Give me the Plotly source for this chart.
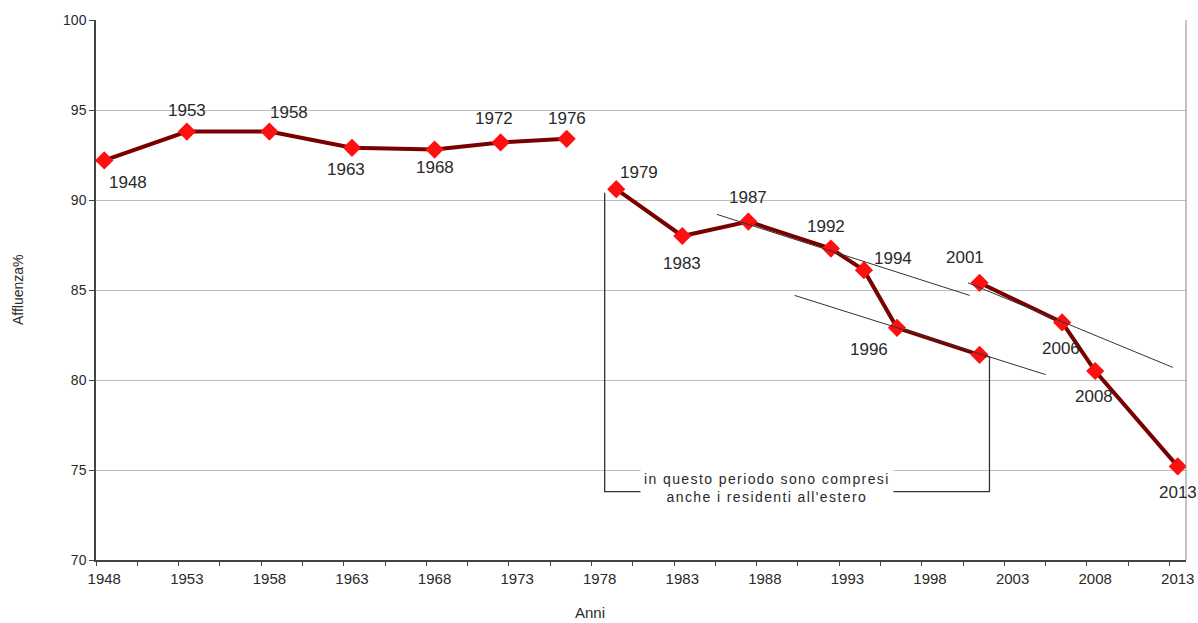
import plotly.graph_objects as go

# Affluenza alle elezioni politiche (Camera), valori percentuali
years_a = [1948, 1953, 1958, 1963, 1968, 1972, 1976]
turnout_a = [92.2, 93.8, 93.8, 92.9, 92.8, 93.2, 93.4]

years_b = [1979, 1983, 1987, 1992, 1994, 1996, 2001]
turnout_b = [90.6, 88.0, 88.8, 87.3, 86.1, 82.9, 81.4]

years_c = [2001, 2006, 2008, 2013]
turnout_c = [85.4, 83.2, 80.5, 75.2]

# label placement for each point: (xshift, yshift) in pixels
labels_a = [(24, -22), (0, 21), (20, 19), (-6, -22), (0, -18), (-7, 24), (0, 20)]
labels_b = [(23, 17), (0, -27), (0, 24), (-5, 22), (29, 12), (-28, -22), None]
labels_c = [(-15, 25), (-1, -26), (-1, -25), (0, -26)]

x_ticks = list(range(1948, 2014, 5))
y_ticks = [70, 75, 80, 85, 90, 95, 100]

# thin trend segments: (x0, y0, x1, y1)
trend_lines = [
    (1985.1, 89.2, 2000.4, 84.7),
    (1989.8, 84.7, 2005.0, 80.3),
    (2000.3, 85.4, 2012.7, 80.7),
]

# bracket marking the period that includes residents abroad
bracket_left = 1978.3
bracket_right = 2001.6
bracket_top_left = 90.4
bracket_top_right = 81.3
bracket_bottom = 73.8
note_x = 1988.1
note_lines = ["in questo periodo sono compresi", "anche i residenti all'estero"]

LINE = "#7a0000"
MARK = "#ff1010"
TXT = "#2a2a2a"
FONT = "Liberation Sans, Arial"

fig = go.Figure()
for xs, ys in [(years_a, turnout_a), (years_b, turnout_b), (years_c, turnout_c)]:
    fig.add_trace(go.Scatter(
        x=xs, y=ys, mode="lines+markers",
        line=dict(color=LINE, width=4),
        marker=dict(symbol="diamond", size=14, color=MARK,
                    line=dict(color=MARK, width=0)),
        hoverinfo="x+y", showlegend=False,
    ))

for xs, ys, offs in [(years_a, turnout_a, labels_a),
                     (years_b, turnout_b, labels_b),
                     (years_c, turnout_c, labels_c)]:
    for x, y, o in zip(xs, ys, offs):
        if o is None:
            continue
        fig.add_annotation(x=x, y=y, text=str(x), showarrow=False,
                           xshift=o[0], yshift=o[1],
                           font=dict(family=FONT, size=17, color=TXT))

for x0, y0, x1, y1 in trend_lines:
    fig.add_shape(type="line", x0=x0, y0=y0, x1=x1, y1=y1, xref="x", yref="y",
                  line=dict(color="#333333", width=1))

# bracket
fig.add_shape(type="path",
              path=(f"M {bracket_left},{bracket_top_left} L {bracket_left},{bracket_bottom} "
                    f"L {bracket_right},{bracket_bottom} L {bracket_right},{bracket_top_right} "
                    f"L {bracket_right - 0.3},{bracket_top_right}"),
              xref="x", yref="y", line=dict(color="#333333", width=1.3))

note_html = "<br>".join(f'<span style="letter-spacing:1.4px">{s}</span>' for s in note_lines)
fig.add_annotation(x=note_x, y=bracket_bottom,
                   text=note_html, showarrow=False, xref="x", yref="y",
                   bgcolor="white", borderpad=3, yshift=4,
                   font=dict(family=FONT, size=14, color=TXT))

# axis titles
fig.add_annotation(text="Anni", x=0.453, y=-0.098, xref="paper", yref="paper",
                   xanchor="center", yanchor="middle", showarrow=False,
                   font=dict(family=FONT, size=15, color=TXT))
fig.add_annotation(text="Affluenza%", textangle=-90, x=0, y=0.5,
                   xref="paper", yref="paper", xanchor="center", yanchor="middle",
                   xshift=-78, showarrow=False,
                   font=dict(family=FONT, size=14, color=TXT))

fig.update_layout(
    width=1198, height=623,
    margin=dict(l=96, r=12, t=20, b=63),
    paper_bgcolor="white", plot_bgcolor="white",
    font=dict(family=FONT, size=14, color=TXT),
)

fig.update_xaxes(
    range=[1947.5, 2013.5], automargin=False,
    tickvals=x_ticks, ticktext=[str(v) for v in x_ticks],
    ticks="", showgrid=False, zeroline=False, ticklabelstandoff=4,
    showline=True, linecolor="#444444", linewidth=1.5, mirror=False,
    minor=dict(tick0=1947.5, dtick=2.5, ticks="outside", ticklen=4,
               tickcolor="#444444", showgrid=False),
    tickfont=dict(size=15, color=TXT),
)

fig.update_yaxes(
    range=[70, 100], automargin=False,
    tickvals=y_ticks,
    ticks="outside", ticklen=5, tickcolor="#444444",
    showgrid=True, gridcolor="#bdbdbd", gridwidth=1, zeroline=False,
    showline=True, linecolor="#444444", linewidth=1.5,
    tickfont=dict(size=14, color=TXT),
)

# right border of the plot area
fig.add_shape(type="line", x0=1, x1=1, y0=0, y1=1, xref="paper", yref="paper",
              line=dict(color="#888888", width=1))

fig.write_html("out.html")
